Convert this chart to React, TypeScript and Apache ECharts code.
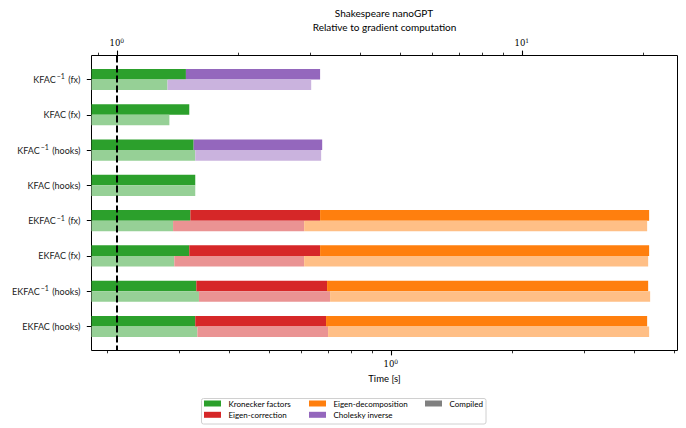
import React, { useEffect, useRef } from "react";
import * as echarts from "echarts";

// ---- data ----
const categories = [
  "KFAC⁻¹ (fx)",
  "KFAC (fx)",
  "KFAC⁻¹ (hooks)",
  "KFAC (hooks)",
  "EKFAC⁻¹ (fx)",
  "EKFAC (fx)",
  "EKFAC⁻¹ (hooks)",
  "EKFAC (hooks)",
];

// seconds, not compiled (upper, dark bar)
const kroneckerEager = [0.312, 0.318, 0.326, 0.329, 0.32, 0.318, 0.331, 0.329];
const correctionEager = [0, 0, 0, 0, 0.349, 0.351, 0.365, 0.363];
const decompositionEager = [0, 0, 0, 0, 3.674, 3.674, 3.623, 3.602];
const choleskyEager = [0.357, 0, 0.351, 0, 0, 0, 0, 0];

// seconds, compiled (lower, light bar)
const kroneckerCompiled = [0.281, 0.284, 0.329, 0.329, 0.29, 0.292, 0.336, 0.333];
const correctionCompiled = [0, 0, 0, 0, 0.321, 0.319, 0.372, 0.367];
const decompositionCompiled = [0, 0, 0, 0, 3.683, 3.708, 3.66, 3.643];
const choleskyCompiled = [0.355, 0, 0.344, 0, 0, 0, 0, 0];

const gradientTime = 0.2106; // seconds = 1 on the relative (top) axis
const timeMin = 0.1824;
const timeMax = 5.103;

const timeMajorTicks = [1];
const timeMinorTicks = [0.2, 0.3, 0.4, 0.5, 0.6, 0.7, 0.8, 0.9, 2, 3, 4, 5];
const relMajorTicks = [1, 10];
const relMinorTicks = [0.9, 2, 3, 4, 5, 6, 7, 8, 9, 20];

const legendColumns = [
  ["Kronecker factors", "Eigen-correction"],
  ["Eigen-decomposition", "Cholesky inverse"],
  ["Compiled"],
];

// ---- styling ----
const BAR_H = 0.3;
const SANS = "Lato";
const SERIF = "DejaVu Serif";

const components = [
  { name: "Kronecker factors", dark: "#2ca02c", light: "#96d096", eager: kroneckerEager, compiled: kroneckerCompiled },
  { name: "Eigen-correction", dark: "#d62728", light: "#ea9393", eager: correctionEager, compiled: correctionCompiled },
  { name: "Eigen-decomposition", dark: "#ff7f0e", light: "#ffbf86", eager: decompositionEager, compiled: decompositionCompiled },
  { name: "Cholesky inverse", dark: "#9467bd", light: "#cab3de", eager: choleskyEager, compiled: choleskyCompiled },
];

function buildSeries() {
  const series: any[] = [];
  components.forEach((comp, ci) => {
    const data: number[][] = [];
    categories.forEach((_, i) => {
      [comp.eager, comp.compiled].forEach((arr, row) => {
        const val = arr[i];
        if (!val) return;
        let base = 0;
        for (let k = 0; k < ci; k++) {
          base += (row === 0 ? components[k].eager : components[k].compiled)[i];
        }
        data.push([base === 0 ? timeMin : base, base + val, i, row]);
      });
    });
    const s: any = {
      type: "custom",
      name: comp.name,
      xAxisIndex: 0,
      yAxisIndex: 0,
      clip: true,
      itemStyle: { color: comp.dark },
      encode: { x: [0, 1], y: 2 },
      data,
      renderItem: (params: any, api: any) => {
        const s0 = api.value(0);
        const e = api.value(1);
        const cat = api.value(2);
        const row = api.value(3);
        const a = api.coord([s0, row === 0 ? cat - BAR_H : cat]);
        const b = api.coord([e, row === 0 ? cat : cat + BAR_H]);
        return {
          type: "rect",
          shape: {
            x: Math.min(a[0], b[0]),
            y: Math.min(a[1], b[1]),
            width: Math.abs(b[0] - a[0]),
            height: Math.abs(b[1] - a[1]),
          },
          style: { fill: row === 0 ? comp.dark : comp.light },
        };
      },
    };
    if (ci === 0) {
      s.markLine = {
        silent: true,
        symbol: ["none", "none"],
        label: { show: false },
        z: 10,
        lineStyle: { color: "#000", width: 2, type: [7, 3] },
        data: [{ xAxis: gradientTime }],
      };
    }
    series.push(s);
  });
  series.push({
    type: "custom",
    name: "Compiled",
    xAxisIndex: 0,
    yAxisIndex: 0,
    itemStyle: { color: "#808080" },
    encode: { x: [0, 1], y: 2 },
    data: [],
    renderItem: () => null,
  });
  return series;
}

const supLabel = (v: number) => "10{sup|" + Math.round(Math.log10(v)) + "}";
const tickRich = {
  sup: { fontSize: 6, fontFamily: SERIF, color: "#000", padding: [0, 0, 5, 0] },
};

function xAxes() {
  const common = {
    type: "log",
    logBase: 10,
    splitLine: { show: false },
    axisLine: { show: false, onZero: false },
  };
  return [
    {
      ...common,
      position: "bottom",
      min: timeMin,
      max: timeMax,
      axisTick: { customValues: timeMajorTicks, length: 4.9, lineStyle: { color: "#000", width: 1.1 } },
      axisLabel: {
        customValues: timeMajorTicks,
        formatter: supLabel,
        rich: tickRich,
        fontFamily: SERIF,
        fontSize: 8.5,
        color: "#000",
        margin: 7.5,
      },
      name: "Time [s]",
      nameLocation: "middle",
      nameGap: 23,
      nameTextStyle: { fontFamily: SANS, fontSize: 9.5, color: "#000" },
    },
    {
      ...common,
      position: "bottom",
      min: timeMin,
      max: timeMax,
      axisTick: { customValues: timeMinorTicks, length: 2.8, lineStyle: { color: "#000", width: 0.8 } },
      axisLabel: { show: false },
    },
    {
      ...common,
      position: "top",
      min: timeMin / gradientTime,
      max: timeMax / gradientTime,
      axisTick: { customValues: relMajorTicks, length: 4.9, lineStyle: { color: "#000", width: 1.1 } },
      axisLabel: {
        customValues: relMajorTicks,
        formatter: supLabel,
        rich: tickRich,
        fontFamily: SERIF,
        fontSize: 8.5,
        color: "#000",
        margin: 7.5,
      },
      name: "Relative to gradient computation",
      nameLocation: "middle",
      nameGap: 22,
      nameTextStyle: { fontFamily: SANS, fontSize: 10, color: "#000" },
    },
    {
      ...common,
      position: "top",
      min: timeMin / gradientTime,
      max: timeMax / gradientTime,
      axisTick: { customValues: relMinorTicks, length: 2.8, lineStyle: { color: "#000", width: 0.8 } },
      axisLabel: { show: false },
    },
  ];
}

const legendCommon = {
  orient: "vertical",
  top: 399.5,
  padding: 0,
  itemGap: 3.3,
  itemWidth: 17,
  itemHeight: 6,
  icon: "rect",
  selectedMode: false,
  textStyle: { fontFamily: SANS, fontSize: 8, color: "#000", padding: [0, 0, 0, 2.5] },
};
const legendLefts = [204, 309, 425];

export default function App() {
  const ref = useRef<HTMLDivElement>(null);
  useEffect(() => {
    if (!ref.current) return;
    const chart = echarts.init(ref.current, undefined, { renderer: "svg" });
    const catIdx = categories.map((_, i) => i);
    chart.setOption({
      animation: false,
      backgroundColor: "#fff",
      grid: {
        left: 91.5,
        right: 8.5,
        top: 55.5,
        bottom: 77.5,
        show: true,
        borderColor: "#000",
        borderWidth: 1,
        backgroundColor: "transparent",
      },
      xAxis: xAxes(),
      yAxis: {
        type: "value",
        min: -0.68,
        max: 7.68,
        inverse: true,
        splitLine: { show: false },
        axisLine: { show: false, onZero: false },
        axisTick: { customValues: catIdx, length: 4.7, lineStyle: { color: "#000", width: 1 } },
        axisLabel: {
          customValues: catIdx,
          formatter: (v: number) => categories[Math.round(v)].replace("⁻¹", "{sup|−1}"),
          rich: { sup: { fontSize: 7, fontFamily: SANS, color: "#222", padding: [0, 1, 6, 1] } },
          fontFamily: SANS,
          fontSize: 9,
          color: "#222",
          margin: 11,
        },
      },
      legend: legendColumns.map((data, i) => ({ ...legendCommon, left: legendLefts[i], data })),
      graphic: [
        {
          type: "rect",
          z: -1,
          shape: { x: 201.5, y: 398.5, width: 284.5, height: 25.5, r: 2 },
          style: { fill: "#fff", stroke: "#d0d0d0", lineWidth: 1 },
        },
        {
          type: "text",
          x: 384,
          y: 13.2,
          style: {
            text: "Shakespeare nanoGPT",
            fontFamily: SANS,
            fontSize: 10,
            fill: "#000",
            align: "center",
            verticalAlign: "middle",
          },
        },
      ],
      series: buildSeries(),
    });
    return () => chart.dispose();
  }, []);
  return (
    <div
      ref={ref}
      style={{ position: "fixed", left: 0, top: 0, width: 686, height: 428 }}
    />
  );
}
